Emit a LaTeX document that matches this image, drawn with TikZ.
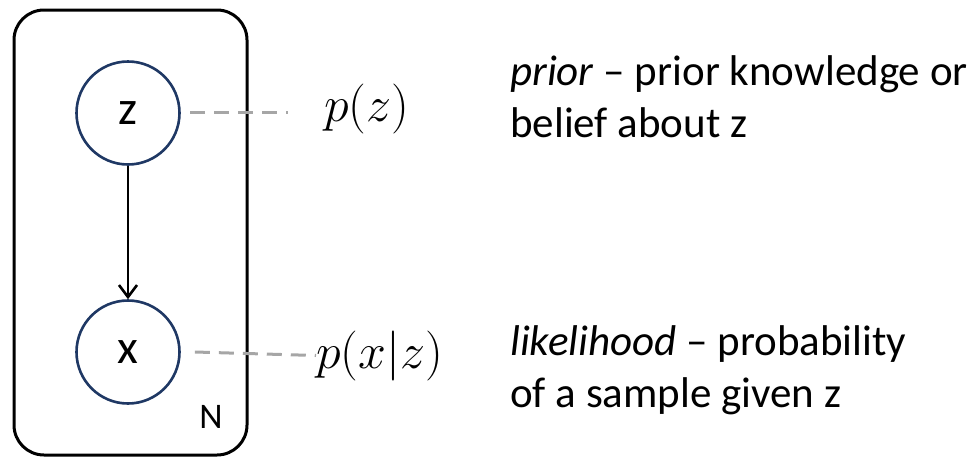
\RequirePackage{fix-cm}
\documentclass[tikz,border=0pt]{standalone}
\usepackage{fontspec}
\setmainfont{Carlito}
\usetikzlibrary{arrows.meta}
\definecolor{navy}{HTML}{1F3864}
\definecolor{dashgray}{HTML}{A6A6A6}
\begin{document}
\begin{tikzpicture}[x=1pt,y=-1pt,
  plate/.style={draw=black,line width=3pt,rounded corners=30pt},
  var/.style={circle,draw=navy,line width=2.6pt,minimum size=103pt,inner sep=0pt,font=\fontsize{48}{56}\selectfont},
  link/.style={draw=dashgray,line width=3pt,dash pattern=on 15pt off 9pt},
  body/.style={anchor=base west,inner sep=0pt,font=\fontsize{43}{52}\selectfont},
  mathlbl/.style={anchor=base west,inner sep=0pt,font=\fontsize{50}{58}\selectfont},
]
\useasboundingbox (0,0) rectangle (971,458);
\draw[plate] (14,10) rectangle (247,455);
\node[anchor=center,inner sep=0pt,font=\fontsize{36}{42}\selectfont] (N) at (211,417) {N};
\node[var] (z) at (128,113) {z};
\node[var] (x) at (128,352) {x};
\draw[line width=2.6pt,-{Straight Barb[length=12pt,width=18pt,line width=2.6pt]}] (z) -- (x);
\node[mathlbl] (pz) at (324,121) {$p(z)$};
\node[mathlbl] (pxz) at (316,368) {$p(x|z)$};
\coordinate (zend) at (288,112);
\draw[link] (190,112) -- (zend);
\draw[link] ([xshift=14pt]x.east) -- (pxz.west);
\node[body] (prior1) at (510,85) {\textit{prior} – prior knowledge or};
\node[body] (prior2) at (510,137) {belief about z};
\node[body] (lik1) at (510,355) {\textit{likelihood} – probability};
\node[body] (lik2) at (510,407) {of a sample given z};
\end{tikzpicture}
\end{document}
